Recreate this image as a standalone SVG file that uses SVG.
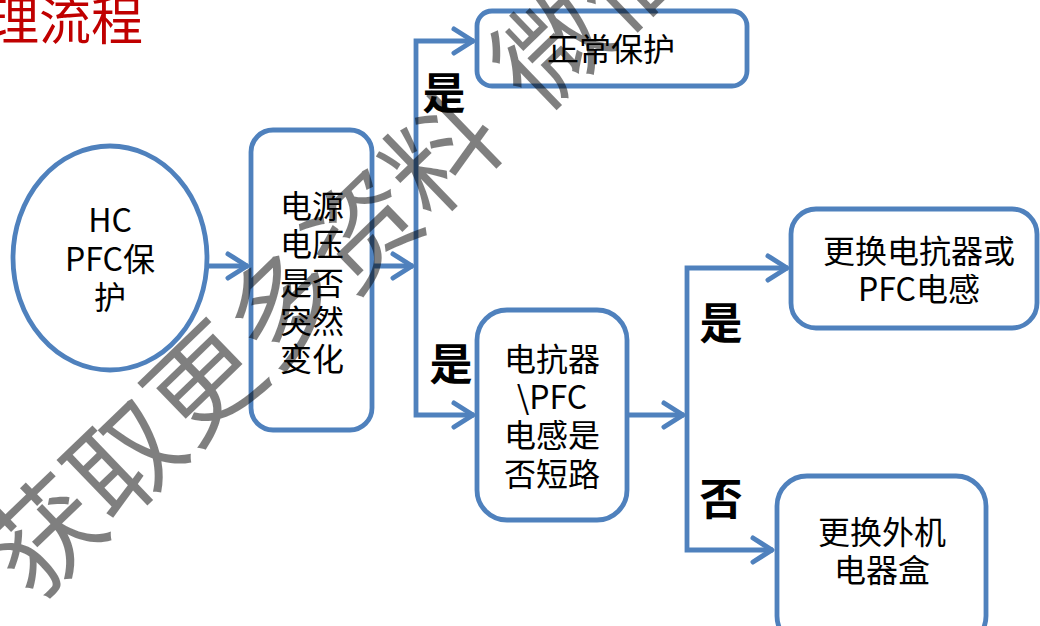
<svg xmlns="http://www.w3.org/2000/svg" width="1040" height="626" viewBox="0 0 1040 626">
<style>
.box{fill:#fff;stroke:#4f81bd;stroke-width:4.8}
.t{font-family:"Noto Sans CJK SC","Noto Sans",sans-serif;font-size:32px;fill:#000;text-anchor:middle}
.lbl{font-family:"Noto Sans CJK SC",sans-serif;font-size:43px;font-weight:bold;fill:#000;text-anchor:middle}
.con{fill:none;stroke:#4f81bd;stroke-width:4.8;stroke-linejoin:miter}
</style>
<defs>
<marker id="arr" markerUnits="userSpaceOnUse" markerWidth="30" markerHeight="30" viewBox="-25 -15 30 30" refX="0" refY="0" orient="auto" overflow="visible">
<path d="M-20,-12 L-1,0 L-20,12" fill="none" stroke="#4f81bd" stroke-width="5" stroke-linecap="round" stroke-linejoin="round"/>
</marker>
</defs>
<rect width="1040" height="626" fill="#fff"/>
<text x="143" y="40" font-family="'Noto Sans CJK SC',sans-serif" font-size="52" fill="#c00000" text-anchor="end">理流程</text>
<g id="connectors">
<path class="con" d="M207,266 H248" marker-end="url(#arr)"/>
<path class="con" d="M373,266 H413" marker-end="url(#arr)"/>
<path class="con" d="M416,266 V41 H474" marker-end="url(#arr)"/>
<path class="con" d="M416,266 V415 H474" marker-end="url(#arr)"/>
<path class="con" d="M628,415 H684" marker-end="url(#arr)"/>
<path class="con" d="M687,415 V268 H788" marker-end="url(#arr)"/>
<path class="con" d="M687,415 V550 H773" marker-end="url(#arr)"/>
<text class="lbl" x="444" y="109">是</text>
<text class="lbl" x="451" y="380">是</text>
<text class="lbl" x="721" y="339">是</text>
<text class="lbl" x="721" y="515">否</text>
</g>
<g id="start">
<ellipse class="box" cx="110" cy="258" rx="97" ry="112"/>
<text class="t" x="110" y="232">HC</text>
<text class="t" x="110" y="271">PFC保</text>
<text class="t" x="110" y="309">护</text>
</g>
<g id="check-voltage">
<rect class="box" x="251" y="130" width="121" height="300" rx="22"/>
<text class="t" x="312" y="218">电源</text>
<text class="t" x="312" y="256">电压</text>
<text class="t" x="312" y="295">是否</text>
<text class="t" x="312" y="333">突然</text>
<text class="t" x="312" y="371">变化</text>
</g>
<g id="normal">
<rect class="box" x="477" y="11" width="270" height="75" rx="15"/>
<text class="t" x="611" y="61">正常保护</text>
</g>
<g id="check-short">
<rect class="box" x="477" y="310" width="150" height="210" rx="30"/>
<text class="t" x="552" y="371">电抗器</text>
<text class="t" x="552" y="409">\PFC</text>
<text class="t" x="552" y="447">电感是</text>
<text class="t" x="552" y="486">否短路</text>
</g>
<g id="replace-reactor">
<rect class="box" x="791" y="209" width="246" height="119" rx="25"/>
<text class="t" x="919" y="263">更换电抗器或</text>
<text class="t" x="919" y="301">PFC电感</text>
</g>
<g id="replace-box">
<rect class="box" x="777" y="476" width="209" height="170" rx="30"/>
<text class="t" x="882" y="544">更换外机</text>
<text class="t" x="882" y="582">电器盒</text>
</g>
<text transform="translate(34,603) rotate(-44)" font-family="'Noto Sans CJK SC',sans-serif" font-size="110" fill="#000" fill-opacity="0.5">获取更多资料<tspan dx="42">微信</tspan></text>
</svg>
